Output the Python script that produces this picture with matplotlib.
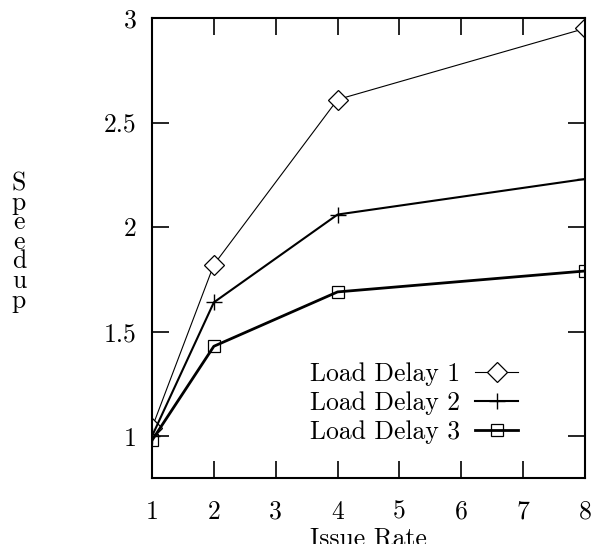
import matplotlib
matplotlib.use("Agg")
import matplotlib.pyplot as plt

plt.rcParams['font.family'] = ['cmr10', 'DejaVu Serif']
plt.rcParams['axes.formatter.use_mathtext'] = True
plt.rcParams['mathtext.fontset'] = 'cm'

issue_rate = [1, 2, 4, 8]
delay1 = [1.04, 1.82, 2.61, 2.95]
delay2 = [1.00, 1.64, 2.06, 2.23]
delay3 = [0.98, 1.43, 1.69, 1.79]

xticks = [1, 2, 3, 4, 5, 6, 7, 8]
yticks = [1, 1.5, 2, 2.5, 3]
ytick_labels = ["1", "1.5", "2", "2.5", "3"]

FS = 18.5

fig = plt.figure(figsize=(5.92, 5.44), dpi=100)
ax = fig.add_axes([152/592, 1 - 478/544, (585-152)/592, (478-18)/544])

ax.plot(issue_rate, delay1, color='black', lw=0.8, marker='D', ms=10,
        mfc='white', mec='black', mew=0.9, label='Load Delay 1')
ax.plot(issue_rate, delay2, color='black', lw=1.5, marker='+', ms=12,
        mew=1.0, label='Load Delay 2')
ax.plot(issue_rate, delay3, color='black', lw=2.0, marker='s', ms=9,
        mfc='none', mec='black', mew=0.9, label='Load Delay 3')

ax.set_xlim(1, 8)
ax.set_ylim(0.8, 3)
ax.set_xticks(xticks)
ax.set_xticklabels([str(v) for v in xticks])
ax.set_yticks(yticks)
ax.set_yticklabels(ytick_labels)

for s in ax.spines.values():
    s.set_linewidth(1.5)
ax.tick_params(direction='in', length=12, width=1.2, top=True, right=True,
               labelsize=FS)
ax.tick_params(axis='x', pad=16)
ax.tick_params(axis='y', pad=11)

ax.set_xlabel('Issue Rate', fontsize=FS, labelpad=2)
fig.text(19/592, 1 - 242/544, "\n".join("Speedup"), fontsize=FS,
         ha='center', va='center', linespacing=0.78)

leg = ax.legend(loc='center right', bbox_to_anchor=(0.845, 0.163),
                frameon=False, markerfirst=False, fontsize=FS,
                handlelength=1.65, handletextpad=0.6, labelspacing=0.2,
                borderpad=0, borderaxespad=0)

fig.savefig('out.png', dpi=100)
